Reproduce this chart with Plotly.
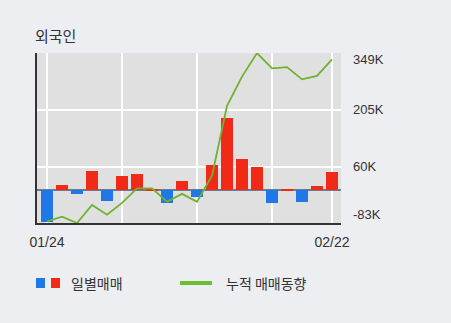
import plotly.graph_objects as go

dates = ["01/24", "01/25", "01/26", "01/29", "01/30", "01/31", "02/01", "02/02", "02/05", "02/06",
         "02/07", "02/08", "02/09", "02/12", "02/13", "02/14", "02/15", "02/16", "02/19", "02/22"]
# daily net trading (shares)
daily = [-80000, 14000, -10000, 49000, -26000, 37000, 42000, 3000, -33000, 25000,
         -18000, 64000, 185000, 80000, 60000, -33000, 3000, -29000, 12000, 47000]
# cumulative trading trend
cumul = [-79000, -67000, -83000, -37000, -62000, -32000, 5000, 5000, -29000, -9000,
         -29000, 37000, 215000, 289000, 349000, 310000, 313000, 282000, 291000, 333000]
ytick_vals = [-83000, 60000, 205000, 349000]
ytick_text = ["-83K", "60K", "205K", "349K"]
xtick_idx = [0, 5, 10, 15, 19]
title = "외국인"
legend_bar = "일별매매"
legend_line = "누적 매매동향"

BLUE = "#1f78e6"
RED = "#f02a17"
GREEN = "#6fb232"
x = list(range(len(dates)))
colors = [RED if v >= 0 else BLUE for v in daily]

fig = go.Figure()
fig.add_trace(go.Bar(x=x, y=daily, marker=dict(color=colors, line=dict(width=0)), width=0.82))
fig.add_trace(go.Scatter(x=x, y=cumul, mode="lines", line=dict(color=GREEN, width=1.8)))

font = "Liberation Sans, Noto Sans CJK KR, sans-serif"
kfont = "Noto Sans CJK KR, sans-serif"

fig.update_layout(
    width=451, height=323,
    margin=dict(l=37, r=110, t=53, b=100),
    paper_bgcolor="#eceef2",
    plot_bgcolor="#e0e0e0",
    showlegend=False,
    bargap=0,
    font=dict(family=font, size=13, color="#333333"),
)
fig.update_xaxes(
    range=[-0.67, 19.6],
    tickvals=xtick_idx,
    ticktext=[dates[i] if i in (0, len(dates) - 1) else "" for i in xtick_idx],
    showgrid=True, gridcolor="#ffffff", gridwidth=1.5,
    showline=True, linecolor="#333333", linewidth=2,
    ticks="", tickfont=dict(size=14, color="#333333"),
    ticklabelstandoff=5,
    zeroline=False,
)
fig.update_yaxes(
    range=[-83000, 349000],
    tickvals=ytick_vals,
    showticklabels=False,
    showgrid=True, gridcolor="#ffffff", gridwidth=1.5,
    showline=True, linecolor="#333333", linewidth=2, side="left",
    zeroline=True, zerolinecolor="#6d7b8e", zerolinewidth=1.5,
)

shifts = [9, 0, 0, -6]
for v, t, s in zip(ytick_vals, ytick_text, shifts):
    fig.add_annotation(x=1, xref="paper", y=v, yref="y", text=t, showarrow=False,
                       xanchor="left", xshift=10, yshift=s,
                       font=dict(family=font, size=13, color="#333333"))

fig.add_annotation(x=0, xref="paper", y=1, yref="paper", text=title, showarrow=False,
                   xanchor="left", yanchor="bottom", xshift=-4, yshift=5,
                   font=dict(family=kfont, size=15, color="#333333"))

# legend (manual)
def px2paper_x(px):
    return (px - 37) / (451 - 37 - 110)

def px2paper_y(py):
    return (323 - 100 - py) / (323 - 100 - 53)

ly = 283
for x0, col in [(36, BLUE), (51, RED)]:
    fig.add_shape(type="rect", xref="paper", yref="paper",
                  x0=px2paper_x(x0), x1=px2paper_x(x0 + 9),
                  y0=px2paper_y(ly + 5), y1=px2paper_y(ly - 5),
                  fillcolor=col, line=dict(width=0))
fig.add_annotation(x=px2paper_x(69), xref="paper", y=px2paper_y(ly), yref="paper",
                   text=legend_bar, showarrow=False, xanchor="left", yanchor="middle",
                   font=dict(family=kfont, size=14, color="#333333"))
fig.add_shape(type="line", xref="paper", yref="paper",
              x0=px2paper_x(180), x1=px2paper_x(212), y0=px2paper_y(ly), y1=px2paper_y(ly),
              line=dict(color="#6cbf2e", width=4))
fig.add_annotation(x=px2paper_x(224), xref="paper", y=px2paper_y(ly), yref="paper",
                   text=legend_line, showarrow=False, xanchor="left", yanchor="middle",
                   font=dict(family=kfont, size=14, color="#333333"))

fig.write_html("out.html")
